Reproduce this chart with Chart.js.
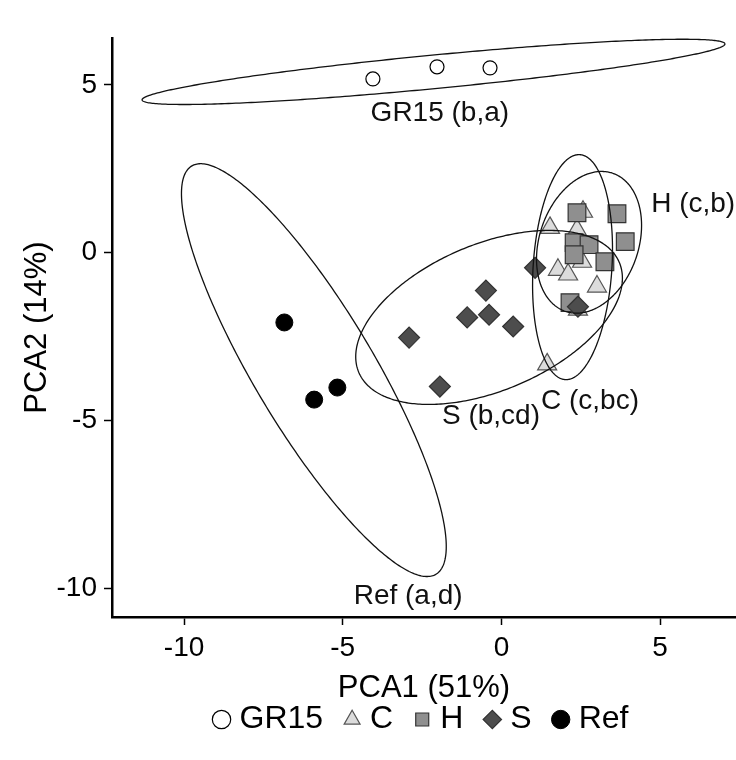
<!DOCTYPE html>
<html>
<head>
<meta charset="utf-8">
<script src="https://cdn.jsdelivr.net/npm/chart.js@4"></script>
<style>
  html, body { margin: 0; padding: 0; background: #fff; overflow: hidden; }
  canvas { display: block; }
</style>
</head>
<body>
<canvas id="pca" width="736" height="760"></canvas>
<script>
// group names (legend order)
const groups = ['GR15', 'C', 'H', 'S', 'Ref']

// PCA scores
const gr15X = [-4.05, -2.03, -0.36]
const gr15Y = [5.18, 5.54, 5.51]
const cX = [2.57, 1.53, 2.38, 1.78, 2.10, 2.54, 3.01, 2.41, 1.44]
const cY = [1.22, 0.74, 0.68, -0.51, -0.65, -0.27, -1.01, -1.70, -3.33]
const hX = [2.38, 3.64, 3.90, 2.29, 2.76, 2.29, 3.26, 2.16]
const hY = [1.19, 1.16, 0.33, 0.30, 0.24, -0.06, -0.27, -1.49]
const sX = [-2.91, -1.94, -1.08, -0.49, -0.39, 0.37, 1.06, 2.41]
const sY = [-2.53, -3.99, -1.93, -1.13, -1.85, -2.20, -0.45, -1.61]
const refX = [-6.84, -5.90, -5.17]
const refY = [-2.08, -4.38, -4.02]

// confidence ellipses (data units): centre, semi-axes, rotation in degrees
const ellipseCx = [-2.14, 2.24, 2.76, -0.39, -5.91]
const ellipseCy = [5.39, -0.43, 0.31, -1.93, -3.50]
const ellipseA = [9.22, 3.36, 2.19, 4.42, 7.2]
const ellipseB = [0.5, 1.24, 1.55, 2.2, 1.85]
const ellipseAngle = [5.2, 86, 68, 21, -57.5]

// group labels with significance letters
const groupLabels = ['GR15 (b,a)', 'C (c,bc)', 'H (c,b)', 'S (b,cd)', 'Ref (a,d)']
const labelX = [-1.94, 2.79, 6.04, -0.33, -2.94]
const labelY = [4.17, -4.43, 1.43, -4.88, -10.24]

const xTicks = [-10, -5, 0, 5]
const yTicks = [-10, -5, 0, 5]

const FONT = "'Liberation Sans', Arial, sans-serif"
Chart.defaults.font.family = FONT
Chart.defaults.color = '#000'

const pts = (xs, ys) => xs.map((x, i) => ({ x, y: ys[i] }))

// ellipses + text labels, drawn on top of the markers
const ellipsePlugin = {
  id: 'ellipses',
  afterDatasetsDraw(chart) {
    const { ctx, chartArea, scales: { x, y } } = chart
    ctx.save()
    ctx.beginPath()
    ctx.rect(chartArea.left, chartArea.top, chartArea.right - chartArea.left, chartArea.bottom - chartArea.top)
    ctx.clip()
    ctx.strokeStyle = '#111'
    ctx.lineWidth = 1.3
    ellipseCx.forEach((cx, i) => {
      const rot = ellipseAngle[i] * Math.PI / 180
      ctx.beginPath()
      for (let k = 0; k <= 360; k++) {
        const t = k * Math.PI / 180
        const ex = ellipseA[i] * Math.cos(t)
        const ey = ellipseB[i] * Math.sin(t)
        const dx = cx + ex * Math.cos(rot) - ey * Math.sin(rot)
        const dy = ellipseCy[i] + ex * Math.sin(rot) + ey * Math.cos(rot)
        const px = x.getPixelForValue(dx)
        const py = y.getPixelForValue(dy)
        if (k === 0) ctx.moveTo(px, py)
        else ctx.lineTo(px, py)
      }
      ctx.stroke()
    })
    ctx.restore()

    ctx.save()
    ctx.font = '28px ' + FONT
    ctx.fillStyle = '#111'
    ctx.textAlign = 'center'
    ctx.textBaseline = 'middle'
    groupLabels.forEach((txt, i) => {
      ctx.fillText(txt, x.getPixelForValue(labelX[i]), y.getPixelForValue(labelY[i]))
    })
    ctx.restore()
  }
}

const axisCommon = {
  type: 'linear',
  border: { display: true, color: '#000', width: 2.5 },
  grid: { display: true, drawOnChartArea: false, drawTicks: true, tickLength: 8, tickColor: '#000', tickWidth: 1.5 },
}

new Chart(document.getElementById('pca'), {
  type: 'scatter',
  data: {
    datasets: [
      { label: groups[0], data: pts(gr15X, gr15Y), pointStyle: 'circle', pointRadius: 7,
        backgroundColor: '#fff', borderColor: '#000', borderWidth: 1.2, order: 0 },
      { label: groups[1], data: pts(cX, cY), pointStyle: 'triangle', pointRadius: 11,
        backgroundColor: '#dcdcdc', borderColor: '#555', borderWidth: 1.2, order: 3 },
      { label: groups[2], data: pts(hX, hY), pointStyle: 'rect', pointRadius: 12.5,
        backgroundColor: '#8f8f8f', borderColor: '#333', borderWidth: 1.2, order: 2 },
      { label: groups[3], data: pts(sX, sY), pointStyle: 'rectRot', pointRadius: 10.5,
        backgroundColor: '#4d4d4d', borderColor: '#333', borderWidth: 1.2, order: 1 },
      { label: groups[4], data: pts(refX, refY), pointStyle: 'circle', pointRadius: 8.5,
        backgroundColor: '#000', borderColor: '#000', borderWidth: 1, order: 0 },
    ]
  },
  options: {
    responsive: false,
    animation: false,
    layout: { autoPadding: false, padding: { top: 38, left: 0, right: 0, bottom: 14.5 } },
    scales: {
      x: {
        ...axisCommon,
        min: -12.27, max: 7.39,
        afterBuildTicks: s => { s.ticks = xTicks.map(v => ({ value: v })) },
        afterFit: s => { s.height = 59.5 },
        ticks: { font: { size: 28 }, color: '#000', padding: 6 },
        title: { display: true, text: 'PCA1 (51%)', font: { size: 31 }, color: '#000', padding: { top: 0, bottom: -31 } }
      },
      y: {
        ...axisCommon,
        min: -10.86, max: 6.4,
        afterBuildTicks: s => { s.ticks = yTicks.map(v => ({ value: v })) },
        afterFit: s => { s.width = 112 },
        ticks: { font: { size: 28 }, color: '#000', padding: 7 },
        title: { display: true, text: 'PCA2 (14%)', font: { size: 31 }, color: '#000', padding: { top: 19, bottom: 0 } }
      }
    },
    plugins: {
      legend: {
        position: 'bottom',
        fullSize: false,
        labels: {
          usePointStyle: true, boxWidth: 4, boxHeight: 13, padding: 27,
          font: { size: 32 }, color: '#000',
          sort: (a, b) => a.datasetIndex - b.datasetIndex
        }
      },
      tooltip: { enabled: false }
    }
  },
  plugins: [ellipsePlugin]
})
</script>
</body>
</html>
